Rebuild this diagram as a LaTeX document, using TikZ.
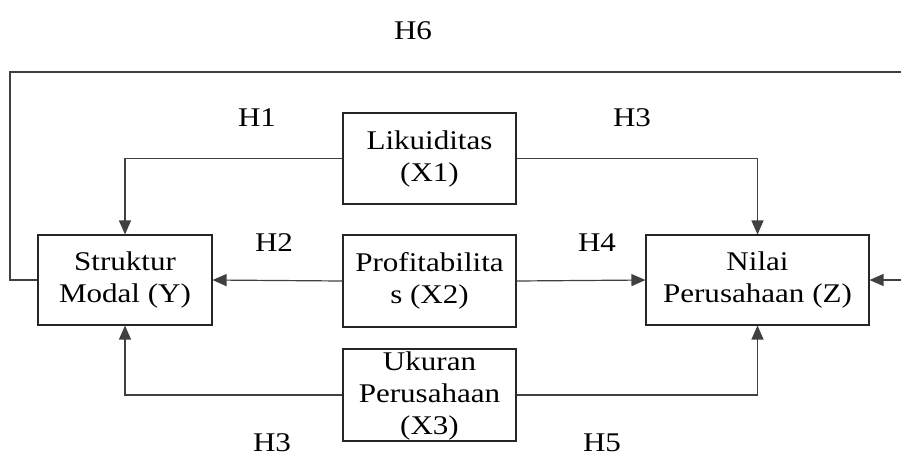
\documentclass[tikz,border=0pt]{standalone}
\usepackage{fontspec}
\setmainfont{Liberation Serif}[FakeStretch=1.15]
\usetikzlibrary{arrows.meta}
\begin{document}
\begin{tikzpicture}[x=1pt,y=-1pt,
  every node/.style={font=\fontsize{27}{32}\selectfont, text=black},
  boxnode/.style={draw=black!85, line width=1.1pt, align=center, inner sep=0pt},
  conn/.style={draw=black!75, line width=1.2pt},
  arr/.style={conn, -{Triangle[length=14pt,width=12pt]}},
  hlabel/.style={inner sep=0pt}
]
\useasboundingbox (0,0) rectangle (901,459);
\clip (0,0) rectangle (901,459);
\node[boxnode, minimum width=174pt, minimum height=90pt] (strukt) at (125,280) {Struktur\\Modal (Y)};
\node[boxnode, minimum width=173pt, minimum height=91pt] (lik) at (429.5,158.5) {Likuiditas\\(X1)};
\node[boxnode, minimum width=173pt, minimum height=92pt] (prof) at (429.5,281) {Profitabilita\\s (X2)};
\node[boxnode, minimum width=173pt, minimum height=92pt] (uk) at (429.5,395) {};
\node[align=center, inner sep=0pt] (uktext) at (429.5,396) {Ukuran\\Perusahaan\\(X3)};
\node[boxnode, minimum width=223pt, minimum height=90pt] (nilai) at (757.5,280) {Nilai\\Perusahaan (Z)};
\coordinate (loopl) at (10,72);
\coordinate (loopr) at (915,72);
\draw[arr] (lik.west) -| (strukt.north);
\draw[arr] (lik.east) -| (nilai.north);
\draw[arr] (prof.west) -- (strukt.east);
\draw[arr] (prof.east) -- (nilai.west);
\draw[arr] (uk.west) -| (strukt.south);
\draw[arr] (uk.east) -| (nilai.south);
\draw[arr] (strukt.west) -| (loopl) -- (loopr) |- (nilai.east);
\node[hlabel] (h6) at (413,31) {H6};
\node[hlabel] (h1) at (257,118) {H1};
\node[hlabel] (h3a) at (632,118) {H3};
\node[hlabel] (h2) at (274,243) {H2};
\node[hlabel] (h4) at (597,243) {H4};
\node[hlabel] (h3b) at (272,443) {H3};
\node[hlabel] (h5) at (602,443) {H5};
\end{tikzpicture}
\end{document}
